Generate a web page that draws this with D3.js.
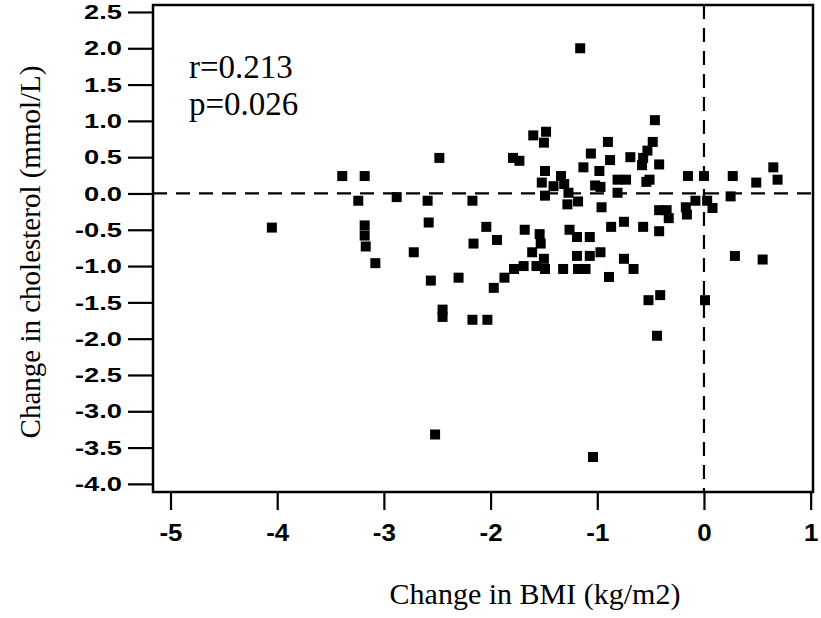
<!DOCTYPE html>
<html>
<head>
<meta charset="utf-8">
<script src="https://cdn.jsdelivr.net/npm/d3@7"></script>
<style>
  body { margin: 0; background: #fff; }
  svg { display: block; }
</style>
</head>
<body>
<svg id="chart" width="821" height="618"></svg>
<script>
// change in BMI (kg/m2) vs change in cholesterol (mmol/L), one pair per subject
const bmiChange = [
  -4.05, -3.39, -3.18, -3.24, -3.18, -3.18, -3.17, -3.08, -2.88, -2.72,
  -2.59, -2.58, -2.56, -2.48, -2.45, -2.45, -2.52, -2.30, -2.17, -2.16,
  -2.17, -2.03, -2.04, -1.94, -1.97, -1.87, -1.79, -1.73, -1.78, -1.69,
  -1.68, -1.60, -1.48, -1.50, -1.49, -1.52, -1.49, -1.54, -1.53, -1.61,
  -1.50, -1.57, -1.49, -1.34, -1.41, -1.31, -1.27, -1.28, -1.18, -1.32,
  -1.26, -1.19, -1.07, -1.19, -1.07, -1.18, -1.11, -1.16, -1.13, -1.06,
  -0.98, -1.02, -0.97, -0.96, -0.97, -1.04, -0.90, -0.88, -0.81, -0.81,
  -0.73, -0.87, -0.89, -0.75, -0.75, -0.66, -0.69, -0.57, -0.58, -0.53,
  -0.48, -0.46, -0.42, -0.54, -0.51, -0.57, -0.42, -0.42, -0.35, -0.33,
  -0.52, -0.41, -0.44, -0.17, -0.16, -0.15, -0.08, 0.00, 0.03, 0.08,
  0.01, 0.25, 0.27, 0.29, 0.49, 0.55, 0.65, 0.69
];
const cholChange = [
  -0.47, 0.24, 0.24, -0.10, -0.44, -0.58, -0.73, -0.96, -0.05, -0.81,
  -0.10, -0.40, -1.20, 0.49, -1.60, -1.70, -3.32, -1.16, -0.10, -0.69,
  -1.74, -1.74, -0.46, -0.64, -1.30, -1.16, 0.49, 0.45, -1.04, -1.00,
  -0.50, 0.80, 0.85, 0.70, 0.31, 0.15, -0.03, -0.56, -0.69, -0.81,
  -0.90, -1.00, -1.04, 0.24, 0.10, 0.13, 0.01, -0.15, -0.11, -1.04,
  -0.50, -0.60, -0.60, -0.86, -0.86, -1.04, -1.04, 2.00, 0.36, 0.55,
  0.31, 0.11, 0.09, -0.19, -0.81, -3.63, 0.71, 0.46, 0.19, 0.01,
  0.19, -0.46, -1.15, -0.39, -0.90, -1.04, 0.50, 0.49, 0.39, 0.59,
  0.71, 1.01, 0.40, 0.16, 0.19, -0.46, -0.52, -0.23, -0.23, -0.34,
  -1.47, -1.40, -1.96, -0.19, -0.29, 0.24, -0.10, 0.24, -0.10, -0.20,
  -1.47, -0.04, 0.24, -0.86, 0.15, -0.91, 0.36, 0.19
];
const xTicks = [-5, -4, -3, -2, -1, 0, 1];
const yTicks = [2.5, 2.0, 1.5, 1.0, 0.5, 0.0, -0.5, -1.0, -1.5, -2.0, -2.5, -3.0, -3.5, -4.0];
const statLines = ["r=0.213", "p=0.026"];

const points = bmiChange.map((d, i) => ({ x: d, y: cholChange[i] }));

const svg = d3.select('#chart');
const plotLeft = 153, plotRight = 813, plotTop = 5, plotBottom = 492;

const x = d3.scaleLinear().domain([-5.164, 1.022]).range([plotLeft, plotRight]);
const y = d3.scaleLinear().domain([-4.112, 2.596]).range([plotBottom, plotTop]);

const serif = '"Liberation Serif", "Times New Roman", serif';
const sans = '"Liberation Sans", Arial, Helvetica, sans-serif';

// plain hyphen for negatives, like the original
const hyphen = f => d => f(d).replace('\u2212', '-');

// reference lines at zero
svg.append('line')
  .attr('x1', plotLeft).attr('x2', plotRight)
  .attr('y1', y(0)).attr('y2', y(0))
  .attr('stroke', '#000').attr('stroke-width', 2.2)
  .attr('stroke-dasharray', '14,9');
svg.append('line')
  .attr('x1', x(0)).attr('x2', x(0))
  .attr('y1', plotTop).attr('y2', plotBottom)
  .attr('stroke', '#000').attr('stroke-width', 2.2)
  .attr('stroke-dasharray', '14,9');

// points
const size = 10;
svg.append('g')
  .selectAll('rect')
  .data(points)
  .enter()
  .append('rect')
  .attr('x', d => x(d.x) - size / 2)
  .attr('y', d => y(d.y) - size / 2)
  .attr('width', size)
  .attr('height', size)
  .attr('fill', '#000');

// frame
svg.append('rect')
  .attr('x', plotLeft).attr('y', plotTop)
  .attr('width', plotRight - plotLeft).attr('height', plotBottom - plotTop)
  .attr('fill', 'none').attr('stroke', '#000').attr('stroke-width', 2.5);

// axes
const yAxis = svg.append('g')
  .attr('transform', `translate(${plotLeft},0)`)
  .call(d3.axisLeft(y).tickValues(yTicks).tickFormat(hyphen(d3.format('.1f'))).tickSize(25).tickPadding(6));
const xAxis = svg.append('g')
  .attr('transform', `translate(0,${plotBottom})`)
  .call(d3.axisBottom(x).tickValues(xTicks).tickFormat(hyphen(d3.format('d'))).tickSize(18).tickPadding(14));

[yAxis, xAxis].forEach(g => {
  g.select('.domain').remove();
  g.selectAll('.tick line').attr('stroke', '#000').attr('stroke-width', 2.2);
  g.selectAll('.tick text')
    .attr('fill', '#000')
    .attr('font-family', sans)
    .attr('font-weight', 'bold');
});

// the scanned digits are wider than the font, stretch them a bit
const ySx = 1.3;
yAxis.selectAll('.tick text')
  .attr('font-size', 21)
  .attr('x', -31 / ySx)
  .attr('transform', `scale(${ySx},1)`);
const xSx = 1.08;
xAxis.selectAll('.tick text')
  .attr('font-size', 24)
  .attr('transform', `scale(${xSx},1)`);

// axis titles
svg.append('text')
  .attr('x', 535).attr('y', 604)
  .attr('text-anchor', 'middle')
  .attr('font-family', serif).attr('font-size', 30)
  .text('Change in BMI (kg/m2)');
svg.append('text')
  .attr('transform', `translate(40,252) rotate(-90)`)
  .attr('text-anchor', 'middle')
  .attr('font-family', serif).attr('font-size', 29)
  .text('Change in cholesterol (mmol/L)');

// correlation note
svg.append('g')
  .selectAll('text')
  .data(statLines)
  .enter()
  .append('text')
  .attr('x', 189)
  .attr('y', (d, i) => 78 + i * 37)
  .attr('font-family', serif).attr('font-size', 33)
  .text(d => d);
</script>
</body>
</html>
